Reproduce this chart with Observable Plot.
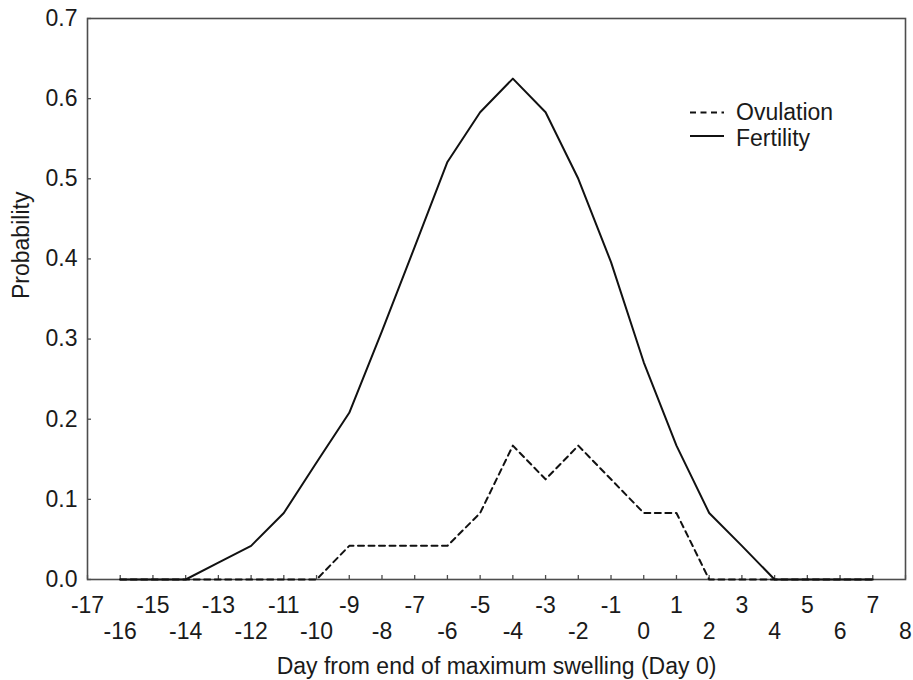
<!DOCTYPE html>
<html>
<head>
<meta charset="utf-8">
<script src="https://cdn.jsdelivr.net/npm/d3@7"></script>
<script src="https://cdn.jsdelivr.net/npm/@observablehq/plot@0.6"></script>
<style>
  body { margin: 0; background: #fff; }
  #chart { position: relative; width: 913px; height: 680px; }
  #legend { position: absolute; left: 0; top: 0; pointer-events: none; }
</style>
</head>
<body>
<div id="chart"></div>
<script>
// Days relative to the end of maximum swelling (Day 0)
const days = [-16, -15, -14, -13, -12, -11, -10, -9, -8, -7, -6, -5, -4, -3, -2, -1, 0, 1, 2, 3, 4, 5, 6, 7];

// Probability of fertility (solid) and ovulation (dashed) on each day
const fertility = [0, 0, 0, 0.021, 0.042, 0.083, 0.146, 0.208, 0.31, 0.415, 0.521, 0.583, 0.625, 0.583, 0.5, 0.396, 0.271, 0.167, 0.083, 0.042, 0, 0, 0, 0];
const ovulation = [0, 0, 0, 0, 0, 0, 0, 0.042, 0.042, 0.042, 0.042, 0.083, 0.167, 0.125, 0.167, 0.125, 0.083, 0.083, 0, 0, 0, 0, 0, 0];

// Tick labels: odd days on the first row, even days on the second
const oddTicks = [-17, -15, -13, -11, -9, -7, -5, -3, -1, 1, 3, 5, 7];
const evenTicks = [-16, -14, -12, -10, -8, -6, -4, -2, 0, 2, 4, 6, 8];
const dayTicks = [-17, -16, -15, -14, -13, -12, -11, -10, -9, -8, -7, -6, -5, -4, -3, -2, -1, 0, 1, 2, 3, 4, 5, 6, 7, 8];
const probTicks = [0, 0.1, 0.2, 0.3, 0.4, 0.5, 0.6, 0.7];

const xLabel = "Day from end of maximum swelling (Day 0)";
const yLabel = "Probability";

const series = [
  { name: "Ovulation", values: ovulation, dash: "6,4.5" },
  { name: "Fertility", values: fertility, dash: null }
];

const rows = series.flatMap(s => days.map((d, i) => ({ day: d, p: s.values[i], series: s.name })));

const width = 913, height = 680;
const axisColor = "#4d4d4d";
const fontFamily = "'Liberation Sans', Arial, sans-serif";

const chart = Plot.plot({
  width, height,
  marginLeft: 87, marginRight: 8, marginTop: 18, marginBottom: 101,
  style: { fontFamily, fontSize: "23px", color: "#1a1a1a", background: "#fff" },
  x: { domain: [-17, 8] },
  y: { domain: [0, 0.7] },
  marks: [
    // inward tick marks
    Plot.axisX(dayTicks, { tickSize: 4, dy: -4, tickFormat: () => "", stroke: axisColor, strokeWidth: 1.3, label: null }),
    Plot.axisY(probTicks, { tickSize: 4, dx: 4, tickFormat: () => "", stroke: axisColor, strokeWidth: 1.3, label: null }),
    // tick labels
    Plot.axisX(oddTicks, { tickSize: 0, tickPadding: 17, tickFormat: d => String(d), label: null }),
    Plot.axisX(evenTicks, { tickSize: 0, tickPadding: 43, tickFormat: d => String(d), label: null }),
    Plot.axisY(probTicks, { tickSize: 0, tickPadding: 10, tickFormat: d3.format(".1f"), label: null }),
    Plot.frame({ stroke: axisColor, strokeWidth: 1.6 }),
    // axis titles
    Plot.text([xLabel], { frameAnchor: "bottom", lineAnchor: "top", dy: 78, text: d => d }),
    Plot.text([yLabel], { frameAnchor: "left", rotate: -90, lineAnchor: "middle", dx: -66, text: d => d }),
    // data lines
    ...series.map(s => Plot.line(rows.filter(r => r.series === s.name), {
      x: "day", y: "p", stroke: "#111", strokeWidth: 2,
      strokeDasharray: s.dash
    }))
  ]
});

const container = document.getElementById("chart");
container.appendChild(chart);

// Legend in the upper right of the plot area
const legend = d3.select(container).append("svg")
  .attr("id", "legend")
  .attr("width", width).attr("height", height);

const lg = legend.selectAll("g").data(series).join("g")
  .attr("transform", (d, i) => `translate(690, ${112.5 + i * 23.5})`);

lg.append("line")
  .attr("x1", 0).attr("x2", 34).attr("y1", 0).attr("y2", 0)
  .attr("stroke", "#111").attr("stroke-width", 2)
  .attr("stroke-dasharray", d => d.dash);

lg.append("text")
  .attr("x", 46).attr("y", (d, i) => 7.5 + i * 2.5)
  .attr("font-family", fontFamily)
  .attr("font-size", 23).attr("fill", "#1a1a1a")
  .text(d => d.name);
</script>
</body>
</html>
